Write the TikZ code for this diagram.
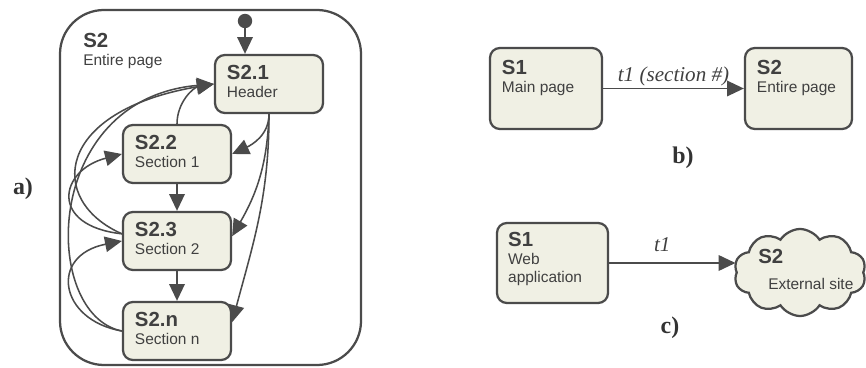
\documentclass[tikz,border=0pt]{standalone}
\usepackage{fontspec}
\setmainfont{Liberation Serif}
\setsansfont{Liberation Sans}
\usepackage{xcolor}
\usetikzlibrary{arrows.meta,positioning,shapes.symbols}
\definecolor{uiline}{HTML}{4B4B4B}
\definecolor{uifill}{HTML}{F0F0E4}
\definecolor{uitext}{HTML}{404040}

\begin{document}
\begin{tikzpicture}[
  >={Triangle[length=12pt,width=11pt]},
  statebox/.style={draw=uiline, fill=uifill, line width=1.6pt, rounded corners=7pt,
    minimum width=2.7cm, minimum height=1.45cm, inner sep=0pt},
  frame/.style={draw=uiline, line width=1.6pt, rounded corners=1.1cm,
    minimum width=7.525cm, minimum height=8.875cm, inner sep=0pt},
  cloudbox/.style={draw=uiline, fill=uifill, line width=1.6pt, shape=cloud,
    cloud puffs=10, cloud puff arc=115, cloud ignores aspect,
    minimum width=3.3cm, minimum height=2.175cm, inner sep=0pt},
  statetext/.style={inner sep=0pt, align=left, text=uitext,
    font=\sffamily\fontsize{11}{13}\selectfont},
  trans/.style={->, draw=uiline, line width=1.1pt},
  flow/.style={->, draw=uiline, line width=1.4pt},
  panel/.style={font=\bfseries\fontsize{17}{17}\selectfont, text=black!80},
  guard/.style={font=\itshape\fontsize{15}{15}\selectfont, text=uitext}
]
\useasboundingbox (0,0) rectangle (21.65,9.175);
% ── a) Entire page with its sections ─────────────
\node[panel] (capa) at (0.575,4.45) {a)};
\node[frame] (s2) at (5.2625,4.4875) {};
\node[statetext, anchor=north west] (s2txt) at (2.075,8.35)
  {{\bfseries\fontsize{14.5}{13}\selectfont S2}\\Entire page};
\node[circle, fill=uiline, minimum size=0.36cm, inner sep=0pt] (init) at (6.125,8.65) {};
\node[statebox] (s21) at (6.725,7.075) {};
\node[statebox] (s22) at (4.425,5.325) {};
\node[statebox] (s23) at (4.425,3.15) {};
\node[statebox] (s2n) at (4.425,0.9) {};
\node[statetext, below right=0.27cm and 0.32cm of s21.north west] (s21txt)
  {{\bfseries\fontsize{14.5}{13}\selectfont S2.1}\\Header};
\node[statetext, below right=0.27cm and 0.32cm of s22.north west] (s22txt)
  {{\bfseries\fontsize{14.5}{13}\selectfont S2.2}\\Section 1};
\node[statetext, below right=0.27cm and 0.32cm of s23.north west] (s23txt)
  {{\bfseries\fontsize{14.5}{13}\selectfont S2.3}\\Section 2};
\node[statetext, below right=0.27cm and 0.32cm of s2n.north west] (s2ntxt)
  {{\bfseries\fontsize{14.5}{13}\selectfont S2.n}\\Section n};
\draw[flow] (init) -- (init |- s21.north);
\draw[flow] (s22.south) -- (s23.north);
\draw[flow] (s23.south) -- (s2n.north);
% header to every section
\draw[trans] (s21.south) to[out=-90,in=25] (s22.east);
\draw[trans] (s21.south) to[out=-92,in=60] ([yshift=0.12cm]s23.east);
\draw[trans] (s21.south) to[out=-90,in=75] ([yshift=0.22cm]s2n.east);
% back to header / previous sections
\draw[trans] (s22.north) to[out=90,in=190] (s21.west);
\draw[trans] ([yshift=0.18cm]s23.west) .. controls +(-1.875,0.825) and +(-4.0,-0.675) .. (s21.west);
\draw[trans] (s2n.west) .. controls +(-2.025,0.4) and +(-4.325,-0.375) .. (s21.west);
\draw[trans] ([yshift=0.18cm]s23.west) .. controls +(-1.825,0.2) and +(-1.575,-0.41) .. (s22.west);
\draw[trans] (s2n.west) .. controls +(-1.575,0.275) and +(-1.825,-0.36) .. (s23.west);
% ── b) Main page to entire page ─────────────────
\node[statebox, minimum width=2.8cm, minimum height=2.025cm] (s1b) at (13.65,6.9625) {};
\node[statebox, minimum width=2.675cm, minimum height=2.025cm] (s2b) at (19.9625,6.9625) {};
\node[statetext, below right=0.32cm and 0.32cm of s1b.north west] (s1btxt)
  {{\bfseries\fontsize{14.5}{13}\selectfont S1}\\Main page};
\node[statetext, below right=0.32cm and 0.32cm of s2b.north west] (s2btxt)
  {{\bfseries\fontsize{14.5}{13}\selectfont S2}\\Entire page};
\draw[flow] (s1b) -- (s2b)
  node[guard, midway, above, inner sep=1pt] {t1 (section \#)};
\node[panel] (capb) at (17.075,5.225) {b)};
% ── c) Web application to external site ─────────
\node[statebox, minimum width=2.775cm, minimum height=2.0cm] (s1c) at (13.8125,2.6) {};
\node[cloudbox] (ext) at (20.0,2.3625) {};
\node[statetext, below right=0.25cm and 0.3cm of s1c.north west] (s1ctxt)
  {{\bfseries\fontsize{14.5}{13}\selectfont S1}\\Web\\application};
\node[statetext, anchor=north west] (exttxt) at (18.95,2.95)
  {{\bfseries\fontsize{14.5}{13}\selectfont S2}\\[0.2cm]\hspace*{0.25cm}External site};
\draw[flow] (s1c.east) -- (s1c.east -| ext.west)
  node[guard, pos=0.42, above, inner sep=0.27cm] {t1};
\node[panel] (capc) at (16.75,0.975) {c)};
\end{tikzpicture}
\end{document}
